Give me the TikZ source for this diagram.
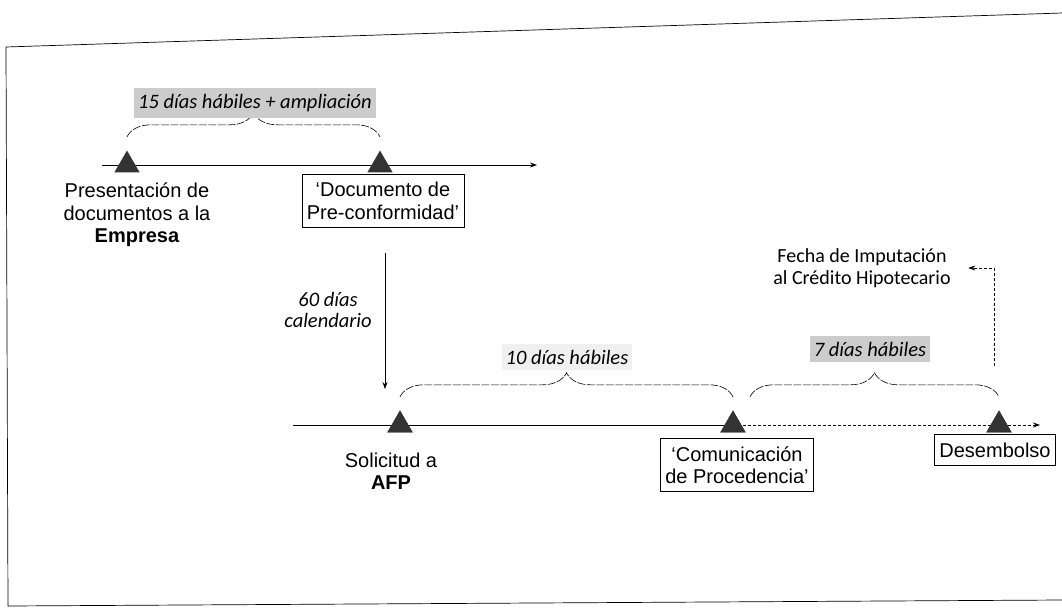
\documentclass[tikz,border=0pt]{standalone}
\usepackage{fontspec}
\setmainfont{Liberation Sans}
\newfontfamily\calfont{Carlito}
\usetikzlibrary{shapes.geometric,decorations.pathreplacing,arrows.meta}
\tikzset{
  >={Stealth[length=7pt,width=5pt]},
  marker/.style={regular polygon,regular polygon sides=3,fill=black!80,minimum size=29pt,inner sep=0pt},
  plain/.style={align=center,font=\fontsize{20}{22.5}\selectfont},
  stepbox/.style={plain,draw,semithick,inner xsep=5pt,inner ysep=8pt},
  days/.style={font=\calfont\itshape\fontsize{20.5}{21}\selectfont,inner xsep=4pt,inner ysep=6pt},
  curly/.style={decorate,decoration={brace,amplitude=24pt},semithick,dash pattern=on 8pt off 1.5pt},
}
\begin{document}
\begin{tikzpicture}[x=1pt,y=-1pt,line width=0.7pt]
    \useasboundingbox (0,0) rectangle (1062,613);
    % Frame %
    \draw (1062,13) -- (6,47) -- (8,606) -- (1062,600);

    % Top timeline %
    \coordinate (axAs) at (102,165);
    \coordinate (axAe) at (537,165);
    \draw[->] (axAs) -- (axAe);
    \node[marker] (pres) at (127,165) {};
    \node[marker] (doc) at (380,165) {};
    \node[plain] (presl) at (137,215) {Presentación de\\documentos a la\\\textbf{Empresa}};
    \node[stepbox] (docl) at (383,201) {`Documento de\\Pre-conformidad'};
    \draw[curly] ([yshift=13pt]pres.north) -- ([yshift=13pt]doc.north);
    \node[days,fill=gray!40] (d15) at (255,103) {15 días hábiles + ampliación};

    % 60 days %
    \coordinate (vs) at (385,253);
    \coordinate (ve) at (385,389);
    \draw[->] (vs) -- (ve);
    \node[days,align=center] (d60) at (328,310) {60 días\\calendario};

    % Bottom timeline %
    \coordinate (axBs) at (293,425);
    \coordinate (axBe) at (1040,425);
    \node[marker] (sol) at (400,425) {};
    \node[marker] (com) at (733,425) {};
    \node[marker] (des) at (999,425) {};
    \draw (axBs) -- (com.center);
    \draw[densely dashed,->] (com.center) -- (axBe);
    \node[marker] at (com) {};
    \node[marker] at (des) {};
    \node[marker] at (sol) {};
    \node[plain] (soll) at (391,471) {Solicitud a\\\textbf{AFP}};
    \node[stepbox] (coml) at (737,465) {`Comunicación\\de Procedencia'};
    \node[stepbox] (desl) at (995,450) {Desembolso};

    % Brackets %
    \draw[curly] ([yshift=13pt]sol.north) -- ([yshift=13pt]com.north);
    \node[days,fill=gray!12] (d10) at (567,357) {10 días hábiles};
    \draw[curly] ([xshift=17pt,yshift=13pt]com.north) -- ([yshift=13pt]des.north);
    \node[days,fill=gray!40] (d7) at (870,349) {7 días hábiles};

    % Imputation date %
    \node[font=\calfont\fontsize{20}{22}\selectfont,align=center] (fecha) at (862,268) {Fecha de Imputación\\al Crédito Hipotecario};
    \coordinate (fup) at (994,366);
    \draw[densely dashed,->] (fup) |- ([xshift=14pt]fecha.east);
\end{tikzpicture}
\end{document}
